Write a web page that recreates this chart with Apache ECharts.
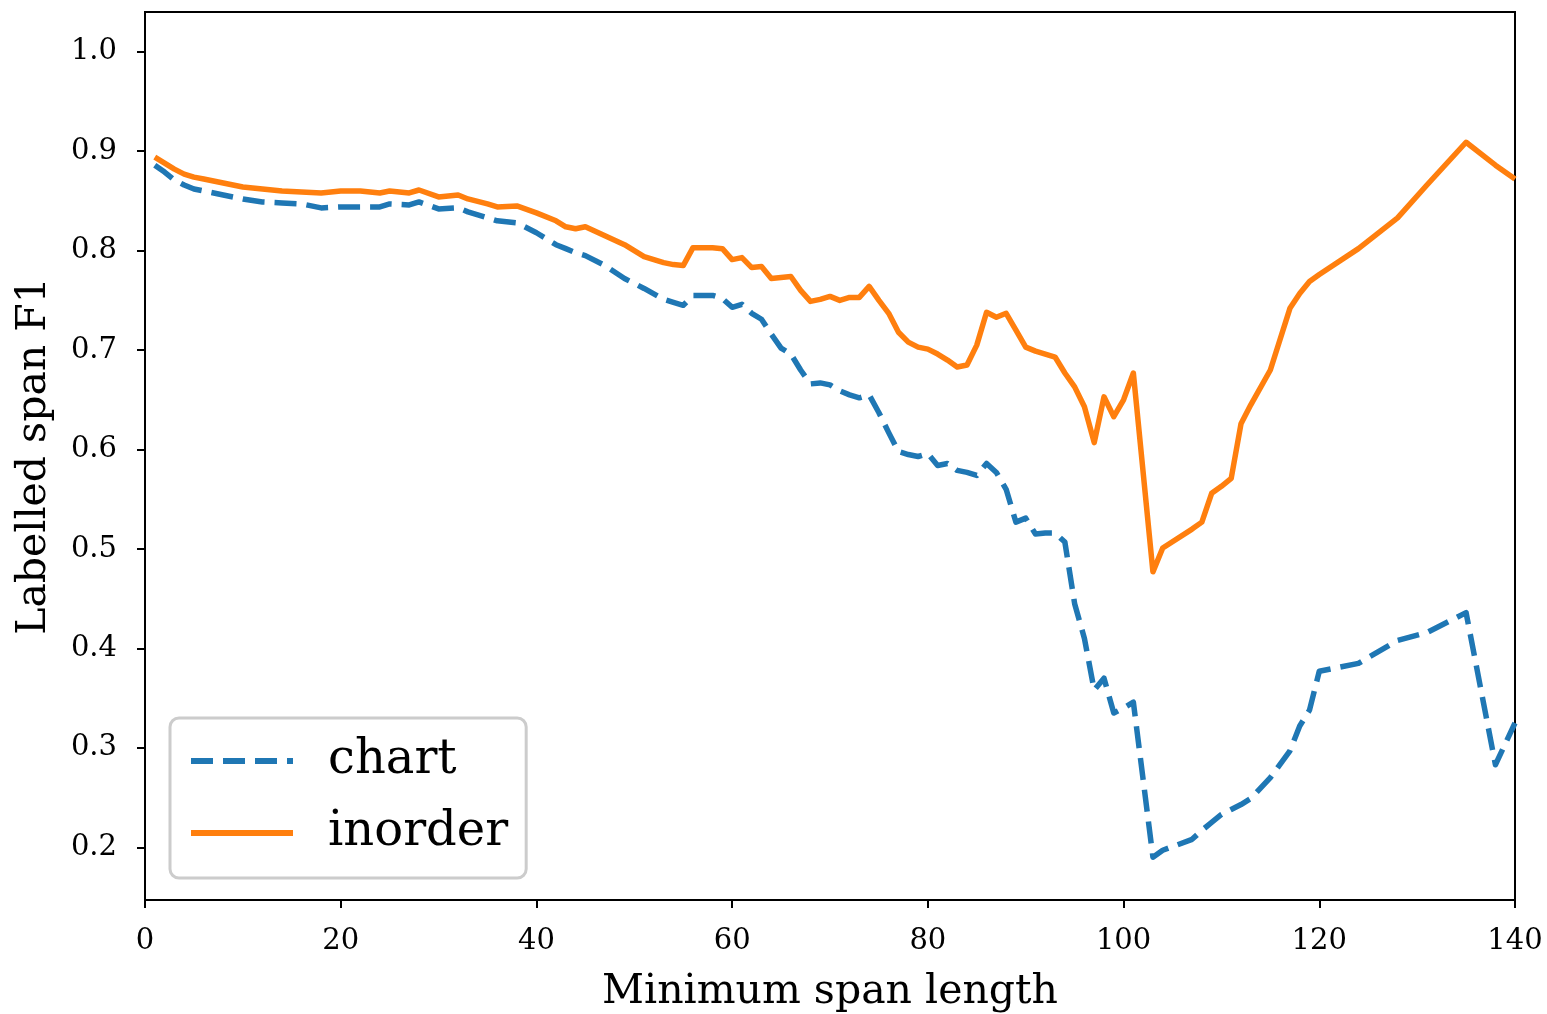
<!DOCTYPE html>
<html>
<head>
<meta charset="utf-8">
<script src="https://cdn.jsdelivr.net/npm/echarts@6/dist/echarts.min.js"></script>
<style>
  html, body { margin: 0; padding: 0; background: #fff; }
  #chart { width: 1547px; height: 1014px; }
</style>
</head>
<body>
<div id="chart"></div>
<script>
// minimum span length (shared x values)
const spanLength = [1, 2, 3, 4, 5, 6, 8, 10, 12, 14, 16, 18, 20, 22, 24, 25, 27, 28, 30, 32,
  33, 35, 36, 38, 40, 42, 43, 44, 45, 47, 49, 50, 51, 53, 54, 55, 56, 58, 59, 60,
  61, 62, 63, 64, 65, 66, 67, 68, 69, 70, 71, 72, 73, 74, 75, 76, 77, 78, 79, 80,
  81, 82, 83, 84, 85, 86, 87, 88, 89, 90, 91, 92, 93, 94, 95, 96, 97, 98, 99, 100,
  101, 103, 104, 107, 108, 109, 110, 111, 112, 113, 115, 117, 118, 119, 120, 124, 128, 131, 135, 138,
  140]

const chartF1 = [0.886, 0.879, 0.871, 0.866, 0.862, 0.860, 0.856, 0.852, 0.849, 0.848, 0.847, 0.843, 0.844, 0.844, 0.844, 0.847, 0.846, 0.849, 0.842, 0.843,
  0.839, 0.833, 0.830, 0.828, 0.818, 0.806, 0.802, 0.798, 0.795, 0.785, 0.772, 0.767, 0.762, 0.751, 0.748, 0.745, 0.755, 0.755, 0.752, 0.743,
  0.746, 0.737, 0.731, 0.716, 0.702, 0.696, 0.680, 0.666, 0.667, 0.665, 0.659, 0.655, 0.652, 0.655, 0.637, 0.617, 0.598, 0.595, 0.593, 0.596,
  0.584, 0.586, 0.579, 0.577, 0.574, 0.586, 0.577, 0.560, 0.527, 0.531, 0.515, 0.516, 0.516, 0.507, 0.445, 0.410, 0.358, 0.370, 0.335, 0.340,
  0.346, 0.190, 0.197, 0.208, 0.217, 0.225, 0.233, 0.238, 0.243, 0.249, 0.270, 0.297, 0.322, 0.338, 0.377, 0.385, 0.408, 0.416, 0.436, 0.283,
  0.325]

const inorderF1 = [0.894, 0.888, 0.882, 0.877, 0.874, 0.872, 0.868, 0.864, 0.862, 0.860, 0.859, 0.858, 0.860, 0.860, 0.858, 0.860, 0.858, 0.861, 0.854, 0.856,
  0.852, 0.847, 0.844, 0.845, 0.838, 0.830, 0.824, 0.822, 0.824, 0.815, 0.806, 0.800, 0.794, 0.788, 0.786, 0.785, 0.803, 0.803, 0.802, 0.791,
  0.793, 0.783, 0.784, 0.772, 0.773, 0.774, 0.760, 0.749, 0.751, 0.754, 0.750, 0.753, 0.753, 0.764, 0.750, 0.737, 0.718, 0.708, 0.703, 0.701,
  0.696, 0.690, 0.683, 0.685, 0.705, 0.738, 0.733, 0.737, 0.720, 0.703, 0.699, 0.696, 0.693, 0.677, 0.663, 0.643, 0.607, 0.653, 0.633, 0.650,
  0.677, 0.477, 0.501, 0.520, 0.527, 0.556, 0.563, 0.571, 0.626, 0.645, 0.680, 0.742, 0.757, 0.769, 0.776, 0.802, 0.833, 0.866, 0.909, 0.886,
  0.872]

const yTicks = [0.2, 0.3, 0.4, 0.5, 0.6, 0.7, 0.8, 0.9, 1.0]

const font = 'DejaVu Serif'

const pair = (ys) => spanLength.map((x, i) => [x, ys[i]])

const chart = echarts.init(document.getElementById('chart'))

const option = {
  animation: false,
  backgroundColor: '#fff',
  grid: {
    left: 145,
    top: 12,
    width: 1370,
    height: 888,
    show: true,
    borderColor: '#000',
    borderWidth: 2,
    containLabel: false,
    outerBoundsMode: 'none'
  },
  legend: {
    orient: 'vertical',
    left: 170,
    top: 718,
    backgroundColor: '#fff',
    borderColor: '#cccccc',
    borderWidth: 3,
    borderRadius: 9,
    padding: [18, 18, 20, 18],
    itemWidth: 102,
    itemHeight: 20,
    itemGap: 22,
    itemStyle: { opacity: 0, borderWidth: 0 },
    lineStyle: { width: 6 },
    textStyle: {
      fontFamily: font,
      fontSize: 48,
      lineHeight: 50,
      color: '#000',
      padding: [0, 0, 0, 30]
    },
    data: ['chart', 'inorder']
  },
  xAxis: {
    type: 'value',
    min: 0,
    max: 140,
    interval: 20,
    name: 'Minimum span length',
    nameLocation: 'middle',
    nameGap: 72,
    nameTextStyle: { fontFamily: font, fontSize: 41, color: '#000' },
    axisLine: { show: true, onZero: false, lineStyle: { color: '#000', width: 2 } },
    axisTick: { show: true, length: 8, lineStyle: { color: '#000', width: 2 } },
    axisLabel: { fontFamily: font, fontSize: 29, color: '#000', margin: 27 },
    splitLine: { show: false }
  },
  yAxis: {
    type: 'value',
    min: 0.147,
    max: 1.04,
    name: 'Labelled span F1',
    nameLocation: 'middle',
    nameGap: 90,
    nameRotate: 90,
    nameTextStyle: { fontFamily: font, fontSize: 41, color: '#000' },
    axisLine: { show: true, onZero: false, lineStyle: { color: '#000', width: 2 } },
    axisTick: { show: true, length: 8, customValues: yTicks, lineStyle: { color: '#000', width: 2 } },
    axisLabel: {
      fontFamily: font,
      fontSize: 29,
      color: '#000',
      margin: 28,
      customValues: yTicks,
      formatter: (v) => v.toFixed(1)
    },
    splitLine: { show: false }
  },
  series: [
    {
      name: 'chart',
      type: 'line',
      data: pair(chartF1),
      symbol: 'none',
      color: '#1f77b4',
      lineStyle: { color: '#1f77b4', width: 5.5, type: [22, 10], cap: 'butt', join: 'round' }
    },
    {
      name: 'inorder',
      type: 'line',
      data: pair(inorderF1),
      symbol: 'none',
      color: '#ff7f0e',
      lineStyle: { color: '#ff7f0e', width: 5.5, join: 'round' }
    }
  ]
}

chart.setOption(option)
</script>
</body>
</html>
